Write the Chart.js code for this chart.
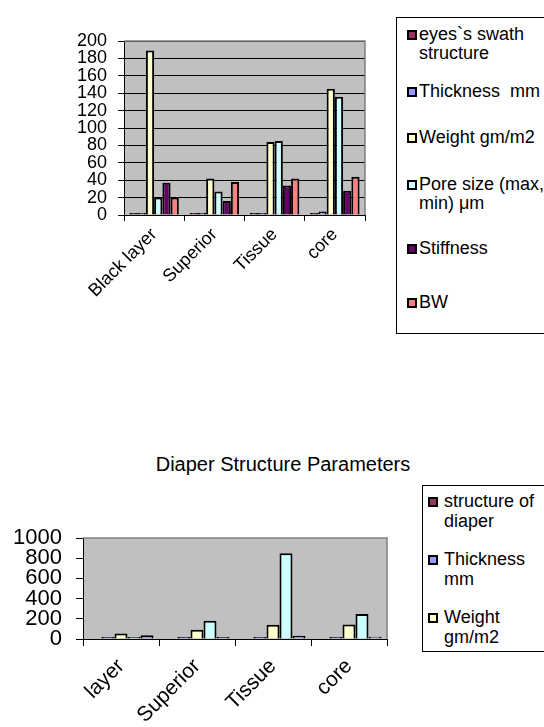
<!DOCTYPE html>
<html>
<head>
<meta charset="utf-8">
<script src="https://cdn.jsdelivr.net/npm/chart.js@4"></script>
<style>
html,body{margin:0;padding:0;background:#fff;overflow:hidden;width:544px;height:727px;}
body{position:relative;font-family:'Liberation Sans',Arial,sans-serif;color:#000;}
#c1{position:absolute;left:0;top:0;}
#c2{position:absolute;left:0;top:440px;}
#title2{position:absolute;left:0;top:452px;width:566px;text-align:center;font-size:20px;line-height:24px;}
.legend{position:absolute;border:1px solid #000;background:#fff;overflow:hidden;box-sizing:border-box;}
.item{display:flex;align-items:flex-start;}
.mk{border:2px solid #000;flex:0 0 auto;box-sizing:content-box;display:block;}
.tx{white-space:pre-wrap;display:block;}
#lg1{left:396px;top:17px;width:170px;height:317px;padding:0 0 0 10px;font-size:18px;line-height:19px;}
#lg1 .tx{width:128px;}
#lg1 .mk{width:6px;height:6px;margin:5px 2px 0 0;}
#lg1 .slot:nth-child(1){margin-top:7px;}
#lg1 .slot:nth-child(2){margin-top:19px;}
#lg1 .slot:nth-child(3){margin-top:27px;}
#lg1 .slot:nth-child(4){margin-top:28px;}
#lg1 .slot:nth-child(5){margin-top:26px;}
#lg1 .slot:nth-child(6){margin-top:35px;}
#lg2{left:422px;top:485px;width:170px;height:167px;padding:0 0 0 5px;font-size:18px;line-height:20px;}
#lg2 .slot{height:58px;display:flex;align-items:center;}
#lg2 .slot:first-child{margin-top:-4px;}
#lg2 .tx{width:105px;}
#lg2 .mk{width:6px;height:6px;margin:6px 6px 0 0;}
</style>
</head>
<body>
<canvas id="c1" width="544" height="300"></canvas>
<div class="legend" id="lg1"></div>
<div id="title2">Diaper Structure Parameters</div>
<canvas id="c2" width="544" height="287"></canvas>
<div class="legend" id="lg2"></div>
<script>
// ---- Top chart data ----
const topCategories = ['Black layer', 'Superior', 'Tissue', 'core'];
const topSeriesNames = ['eyes`s swath structure', 'Thickness  mm', 'Weight gm/m2', 'Pore size (max, min) μm', 'Stiffness', 'BW'];
const topSwath = [0, 0, 0, 0];
const topThickness = [0, 0, 0, 4];
const topWeight = [189, 42, 84, 145];
const topPore = [20, 27, 85, 136];
const topStiffness = [37, 16, 34, 28];
const topBW = [20, 38, 42, 44];
const topTicks = [0, 200, 20]; // min, max, step

// ---- Bottom chart data ----
const bottomCategories = ['layer', 'Superior', 'Tissue', 'core'];
const bottomSeriesNames = ['structure of diaper', 'Thickness mm', 'Weight gm/m2', 'Pore size (max, min) μm', 'Stiffness'];
const bottomStructure = [null, null, null, null];
const bottomThickness = [2, 1, 1, 2];
const bottomWeight = [55, 92, 140, 143];
const bottomPore = [12, 180, 850, 247];
const bottomStiffness = [37, 10, 32, 23];
const bottomTicks = [0, 1000, 200];

// ---- styles ----
const topColors = ['#993366', '#9999FF', '#FFFFCC', '#CCFFFF', '#660066', '#FF8080'];
const bottomColors = ['#993366', '#9999FF', '#FFFFCC', '#CCFFFF', '#A0A0D8'];
const FONT = "'Liberation Sans', Arial, sans-serif";
Chart.defaults.font.family = FONT;
Chart.defaults.color = '#000';

const plotBg = {
  id: 'plotBg',
  beforeDraw(chart) {
    const {ctx, chartArea: a} = chart;
    ctx.save();
    ctx.fillStyle = '#C0C0C0';
    ctx.fillRect(a.left, a.top, a.right - a.left, a.bottom - a.top);
    ctx.restore();
  },
  beforeDatasetsDraw(chart) {
    const {ctx, chartArea: a} = chart;
    ctx.save();
    ctx.strokeStyle = '#808080';
    ctx.lineWidth = 1.5;
    ctx.beginPath();
    ctx.moveTo(a.left, a.top);
    ctx.lineTo(a.right, a.top);
    ctx.lineTo(a.right, a.bottom);
    ctx.stroke();
    ctx.restore();
  }
};

function makeDatasets(names, series, colors) {
  return names.map((n, i) => ({
    label: n,
    data: series[i],
    backgroundColor: colors[i],
    borderColor: '#000',
    borderWidth: 2,
    borderSkipped: 'start',
    minBarLength: 2,
  }));
}

function buildLegend(chart, el, slotClass) {
  chart.data.datasets.forEach(ds => {
    const slot = document.createElement('div');
    slot.className = slotClass;
    const item = document.createElement('div');
    item.className = 'item';
    const mk = document.createElement('span');
    mk.className = 'mk';
    mk.style.background = ds.backgroundColor;
    const tx = document.createElement('span');
    tx.className = 'tx';
    tx.textContent = ds.label;
    item.append(mk, tx);
    slot.append(item);
    el.append(slot);
  });
}

const plainNum = v => String(v);

const chart1 = new Chart(document.getElementById('c1'), {
  type: 'bar',
  data: {
    labels: topCategories,
    datasets: makeDatasets(topSeriesNames, [topSwath, topThickness, topWeight, topPore, topStiffness, topBW], topColors)
  },
  options: {
    responsive: false,
    animation: false,
    datasets: {bar: {categoryPercentage: 0.82, barPercentage: 1}},
    layout: {padding: {top: 41, right: 179, left: 0, bottom: 0}},
    plugins: {legend: {display: false}, tooltip: {enabled: false}},
    scales: {
      x: {
        ticks: {font: {size: 18}, color: '#000', minRotation: 45, maxRotation: 45, autoSkip: false, padding: 3},
        grid: {drawOnChartArea: false, drawTicks: true, tickLength: 6, color: '#000', offset: true},
        border: {color: '#000', width: 1},
        afterFit(s) { s.height = 85; }
      },
      y: {
        min: topTicks[0], max: topTicks[1],
        ticks: {stepSize: topTicks[2], autoSkip: false, font: {size: 18, lineHeight: 1}, color: '#000', padding: 11, callback: plainNum},
        grid: {color: '#000', lineWidth: 1, tickLength: 6, drawTicks: true},
        border: {color: '#000', width: 1},
        afterFit(s) { s.width = 124; }
      }
    }
  },
  plugins: [plotBg]
});
buildLegend(chart1, document.getElementById('lg1'), 'slot');

const chart2 = new Chart(document.getElementById('c2'), {
  type: 'bar',
  data: {
    labels: bottomCategories,
    datasets: makeDatasets(bottomSeriesNames, [bottomStructure, bottomThickness, bottomWeight, bottomPore, bottomStiffness], bottomColors)
  },
  options: {
    responsive: false,
    animation: false,
    datasets: {bar: {categoryPercentage: 0.855, barPercentage: 1}},
    layout: {padding: {top: 98, right: 157, left: 0, bottom: 0}},
    plugins: {legend: {display: false}, tooltip: {enabled: false}},
    scales: {
      x: {
        ticks: {font: {size: 21}, color: '#000', minRotation: 45, maxRotation: 45, autoSkip: false, padding: 8},
        grid: {drawOnChartArea: false, drawTicks: true, tickLength: 7, color: '#000', offset: true},
        border: {color: '#000', width: 1},
        afterFit(s) { s.height = 88; }
      },
      y: {
        min: bottomTicks[0], max: bottomTicks[1],
        ticks: {stepSize: bottomTicks[2], autoSkip: false, font: {size: 22, lineHeight: 1}, color: '#000', padding: 14, callback: plainNum},
        grid: {drawOnChartArea: false, color: '#000', tickLength: 7, drawTicks: true},
        border: {color: '#000', width: 1},
        afterFit(s) { s.width = 83; }
      }
    }
  },
  plugins: [plotBg]
});
buildLegend(chart2, document.getElementById('lg2'), 'slot');
</script>
</body>
</html>
